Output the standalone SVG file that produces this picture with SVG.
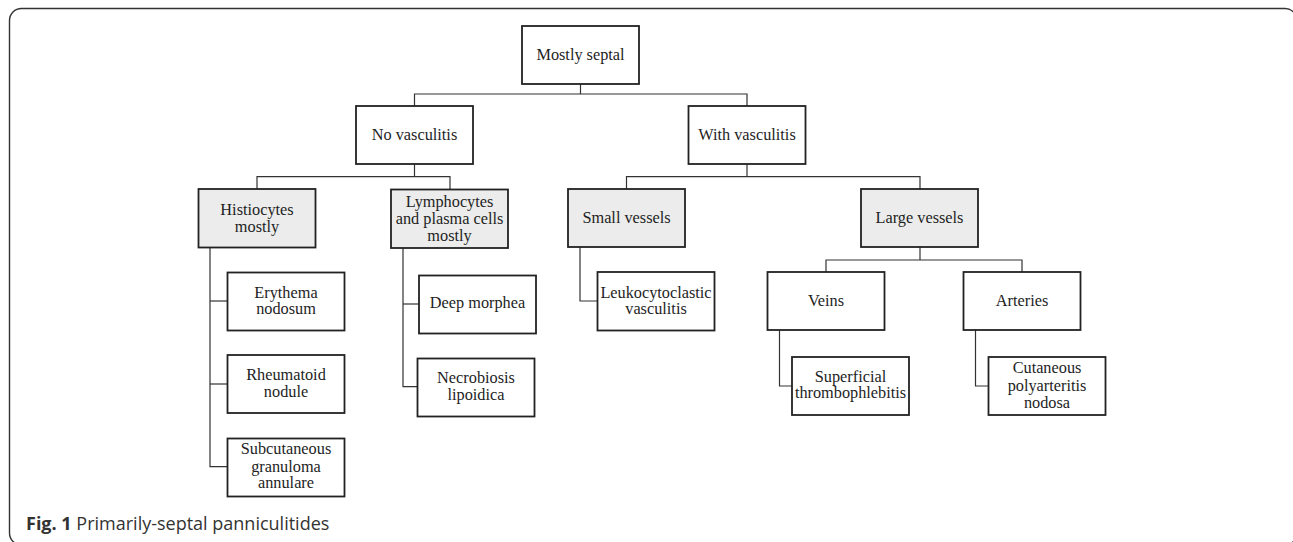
<svg xmlns="http://www.w3.org/2000/svg" width="1293" height="542" viewBox="0 0 1293 542">
<style>
.box{fill:#fff;stroke:#222;stroke-width:1.8}
.grey{fill:#ebeceb}
.t{font-family:"Liberation Serif","Times New Roman",serif;font-size:16.3px;fill:#1e1e1e;text-anchor:middle}
.conn path{fill:none;stroke:#333;stroke-width:1.2}
.frame{fill:none;stroke:#333;stroke-width:1.4}
.cap{font-family:"Open Sans","Noto Sans",sans-serif;font-size:18px;fill:#333}
</style>
<rect width="1293" height="542" fill="#fff"/>
<rect class="frame" x="9.5" y="8.5" width="1287.5" height="536.5" rx="12"/>
<g class="conn">
<path d="M580.5 84 V94"/>
<path d="M414.5 106 V94 H747 V106"/>
<path d="M414.5 164 V176.7"/>
<path d="M257 189 V176.7 H450 V189.5"/>
<path d="M747 164 V176.7"/>
<path d="M626.5 189 V176.7 H920 V189"/>
<path d="M210 247.5 V466.7 H227.5"/>
<path d="M210 301 H227.5"/>
<path d="M210 384 H227.5"/>
<path d="M403 248 V386.7 H417.5"/>
<path d="M403 304 H419"/>
<path d="M580 247 V301 H597.5"/>
<path d="M920 247 V260"/>
<path d="M826 272 V260 H1022 V272"/>
<path d="M779.5 330 V386 H792"/>
<path d="M975.5 330 V386 H988.5"/>
</g>
<g id="mostly-septal"><rect class="box" x="522" y="26" width="117" height="58"/><text class="t" x="580.5" y="60">Mostly septal</text></g>
<g id="no-vasculitis"><rect class="box" x="356" y="106" width="117" height="58"/><text class="t" x="414.5" y="140">No vasculitis</text></g>
<g id="with-vasculitis"><rect class="box" x="688.5" y="106" width="117" height="58"/><text class="t" x="747" y="140">With vasculitis</text></g>
<g id="histiocytes"><rect class="box grey" x="198.5" y="189" width="117" height="58.5"/><text class="t" x="257" y="215">Histiocytes</text><text class="t" x="257" y="231.7">mostly</text></g>
<g id="lymphocytes"><rect class="box grey" x="391" y="189.5" width="117" height="58.5"/><text class="t" x="449.5" y="206.7">Lymphocytes</text><text class="t" x="449.5" y="224">and plasma cells</text><text class="t" x="449.5" y="241">mostly</text></g>
<g id="small-vessels"><rect class="box grey" x="568" y="189" width="117" height="58"/><text class="t" x="626.5" y="223">Small vessels</text></g>
<g id="large-vessels"><rect class="box grey" x="861" y="189" width="117" height="58"/><text class="t" x="919.5" y="223">Large vessels</text></g>
<g id="erythema"><rect class="box" x="227.5" y="272.5" width="117" height="58"/><text class="t" x="286" y="297.7">Erythema</text><text class="t" x="286" y="314.3">nodosum</text></g>
<g id="rheumatoid"><rect class="box" x="227.5" y="355" width="117" height="58"/><text class="t" x="286" y="380">Rheumatoid</text><text class="t" x="286" y="396.7">nodule</text></g>
<g id="subcutaneous"><rect class="box" x="227.5" y="438.5" width="117" height="58"/><text class="t" x="286" y="454.3">Subcutaneous</text><text class="t" x="286" y="471.7">granuloma</text><text class="t" x="286" y="488.3">annulare</text></g>
<g id="deep-morphea"><rect class="box" x="419" y="275.5" width="117" height="58"/><text class="t" x="477.5" y="308.3">Deep morphea</text></g>
<g id="necrobiosis"><rect class="box" x="417.5" y="358.5" width="117" height="58"/><text class="t" x="476" y="382.7">Necrobiosis</text><text class="t" x="476" y="400">lipoidica</text></g>
<g id="leukocytoclastic"><rect class="box" x="597.5" y="272" width="117" height="58.5"/><text class="t" x="656" y="297.7">Leukocytoclastic</text><text class="t" x="656" y="314.3">vasculitis</text></g>
<g id="veins"><rect class="box" x="767.5" y="272" width="117" height="58"/><text class="t" x="826" y="306">Veins</text></g>
<g id="arteries"><rect class="box" x="963.5" y="272" width="117" height="58"/><text class="t" x="1022" y="306">Arteries</text></g>
<g id="superficial"><rect class="box" x="792" y="357" width="117" height="58"/><text class="t" x="850.5" y="381.7">Superficial</text><text class="t" x="850.5" y="398.3">thrombophlebitis</text></g>
<g id="cutaneous"><rect class="box" x="988.5" y="357" width="117" height="58"/><text class="t" x="1047" y="373.3">Cutaneous</text><text class="t" x="1047" y="390.5">polyarteritis</text><text class="t" x="1047" y="407.7">nodosa</text></g>
<text class="cap" x="26" y="530"><tspan font-weight="bold">Fig. 1</tspan> Primarily-septal panniculitides</text>
</svg>
